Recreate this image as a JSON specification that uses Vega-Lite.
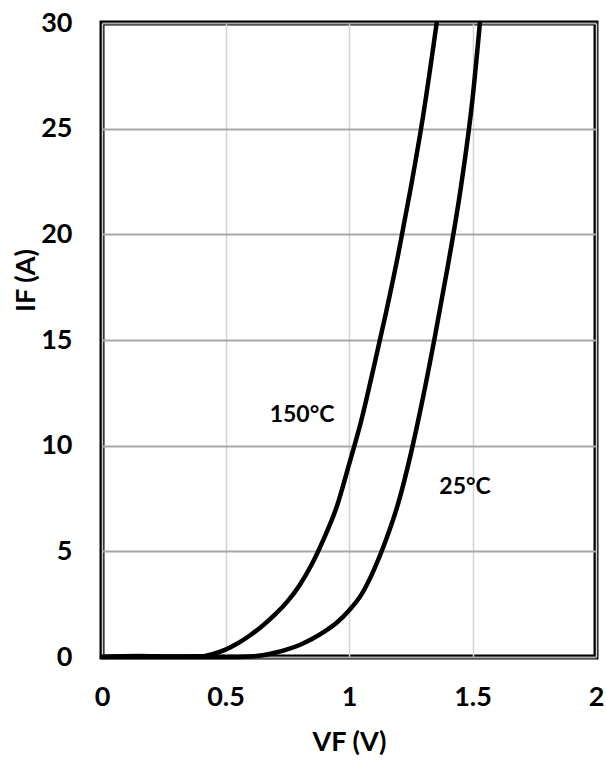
{
  "$schema": "https://vega.github.io/schema/vega-lite/v6.json",
  "width": 494,
  "height": 634,
  "autosize": {"type": "none"},
  "padding": {"left": 102, "top": 23, "right": 10, "bottom": 103},
  "background": "white",
  "config": {
    "font": "Lato",
    "view": {"stroke": "black", "strokeWidth": 5},
    "axis": {
      "labelFont": "Lato",
      "labelFontWeight": "bold",
      "labelFontSize": 27,
      "labelColor": "black",
      "titleFont": "Lato",
      "titleFontWeight": "bold",
      "titleFontSize": 27,
      "titleColor": "black",
      "ticks": false,
      "tickSize": 0,
      "domain": false
    }
  },
  "datasets": {
    "curves": [
      {"series": "150", "VF": 0.0, "IF": 0.0},
      {"series": "150", "VF": 0.15, "IF": 0.05},
      {"series": "150", "VF": 0.3, "IF": 0.02},
      {"series": "150", "VF": 0.4, "IF": 0.03},
      {"series": "150", "VF": 0.45, "IF": 0.15},
      {"series": "150", "VF": 0.5, "IF": 0.35},
      {"series": "150", "VF": 0.55, "IF": 0.65},
      {"series": "150", "VF": 0.6, "IF": 1.03},
      {"series": "150", "VF": 0.65, "IF": 1.48},
      {"series": "150", "VF": 0.7, "IF": 2.0},
      {"series": "150", "VF": 0.75, "IF": 2.62},
      {"series": "150", "VF": 0.8, "IF": 3.4},
      {"series": "150", "VF": 0.85, "IF": 4.4},
      {"series": "150", "VF": 0.9, "IF": 5.65},
      {"series": "150", "VF": 0.95, "IF": 7.1},
      {"series": "150", "VF": 1.0, "IF": 9.1},
      {"series": "150", "VF": 1.05, "IF": 11.2},
      {"series": "150", "VF": 1.1, "IF": 13.7},
      {"series": "150", "VF": 1.15, "IF": 16.3},
      {"series": "150", "VF": 1.2, "IF": 19.1},
      {"series": "150", "VF": 1.25, "IF": 22.2},
      {"series": "150", "VF": 1.3, "IF": 25.6},
      {"series": "150", "VF": 1.355, "IF": 30.0},
      {"series": "25", "VF": 0.0, "IF": 0.0},
      {"series": "25", "VF": 0.55, "IF": 0.0},
      {"series": "25", "VF": 0.6, "IF": 0.02},
      {"series": "25", "VF": 0.65, "IF": 0.08},
      {"series": "25", "VF": 0.7, "IF": 0.2},
      {"series": "25", "VF": 0.75, "IF": 0.36},
      {"series": "25", "VF": 0.8, "IF": 0.57},
      {"series": "25", "VF": 0.85, "IF": 0.85},
      {"series": "25", "VF": 0.9, "IF": 1.2},
      {"series": "25", "VF": 0.95, "IF": 1.62},
      {"series": "25", "VF": 1.0, "IF": 2.2},
      {"series": "25", "VF": 1.05, "IF": 2.95},
      {"series": "25", "VF": 1.1, "IF": 4.1},
      {"series": "25", "VF": 1.15, "IF": 5.55},
      {"series": "25", "VF": 1.2, "IF": 7.3},
      {"series": "25", "VF": 1.25, "IF": 9.6},
      {"series": "25", "VF": 1.3, "IF": 12.3},
      {"series": "25", "VF": 1.35, "IF": 15.3},
      {"series": "25", "VF": 1.4, "IF": 18.5},
      {"series": "25", "VF": 1.45, "IF": 22.0},
      {"series": "25", "VF": 1.5, "IF": 26.4},
      {"series": "25", "VF": 1.53, "IF": 30.0}
    ],
    "labels": [
      {"VF": 0.81, "IF": 11.45, "label": "150°C"},
      {"VF": 1.47, "IF": 8.05, "label": "25°C"}
    ]
  },
  "layer": [
    {
      "data": {"name": "curves"},
      "mark": {"type": "line", "strokeWidth": 4.5, "strokeJoin": "round", "strokeCap": "round", "color": "black", "interpolate": "monotone"},
      "encoding": {
        "x": {
          "field": "VF", "type": "quantitative",
          "scale": {"domain": [0, 2], "nice": false, "zero": false},
          "axis": {
            "values": [0, 0.5, 1, 1.5, 2],
            "format": "~g",
            "labelPadding": 27,
            "grid": true,
            "gridColor": "#d4d4d4",
            "gridWidth": 1.5,
            "title": "VF (V)",
            "titleBaseline": "alphabetic",
            "titleY": 93,
            "labelFlush": false
          }
        },
        "y": {
          "field": "IF", "type": "quantitative",
          "scale": {"domain": [0, 30], "nice": false},
          "axis": {
            "values": [0, 5, 10, 15, 20, 25, 30],
            "labelPadding": 30,
            "grid": true,
            "gridColor": "#a8a8a8",
            "gridWidth": 2,
            "title": "IF (A)",
            "titleBaseline": "alphabetic",
            "titleAngle": -90,
            "titleX": -68,
            "titleY": 257,
            "labelFlush": false
          }
        },
        "detail": {"field": "series", "type": "nominal"}
      }
    },
    {
      "data": {"name": "labels"},
      "mark": {"type": "text", "font": "Lato", "fontWeight": "bold", "fontSize": 23, "color": "black", "align": "center", "baseline": "middle"},
      "encoding": {
        "x": {"field": "VF", "type": "quantitative"},
        "y": {"field": "IF", "type": "quantitative"},
        "text": {"field": "label", "type": "nominal"}
      }
    }
  ]
}
